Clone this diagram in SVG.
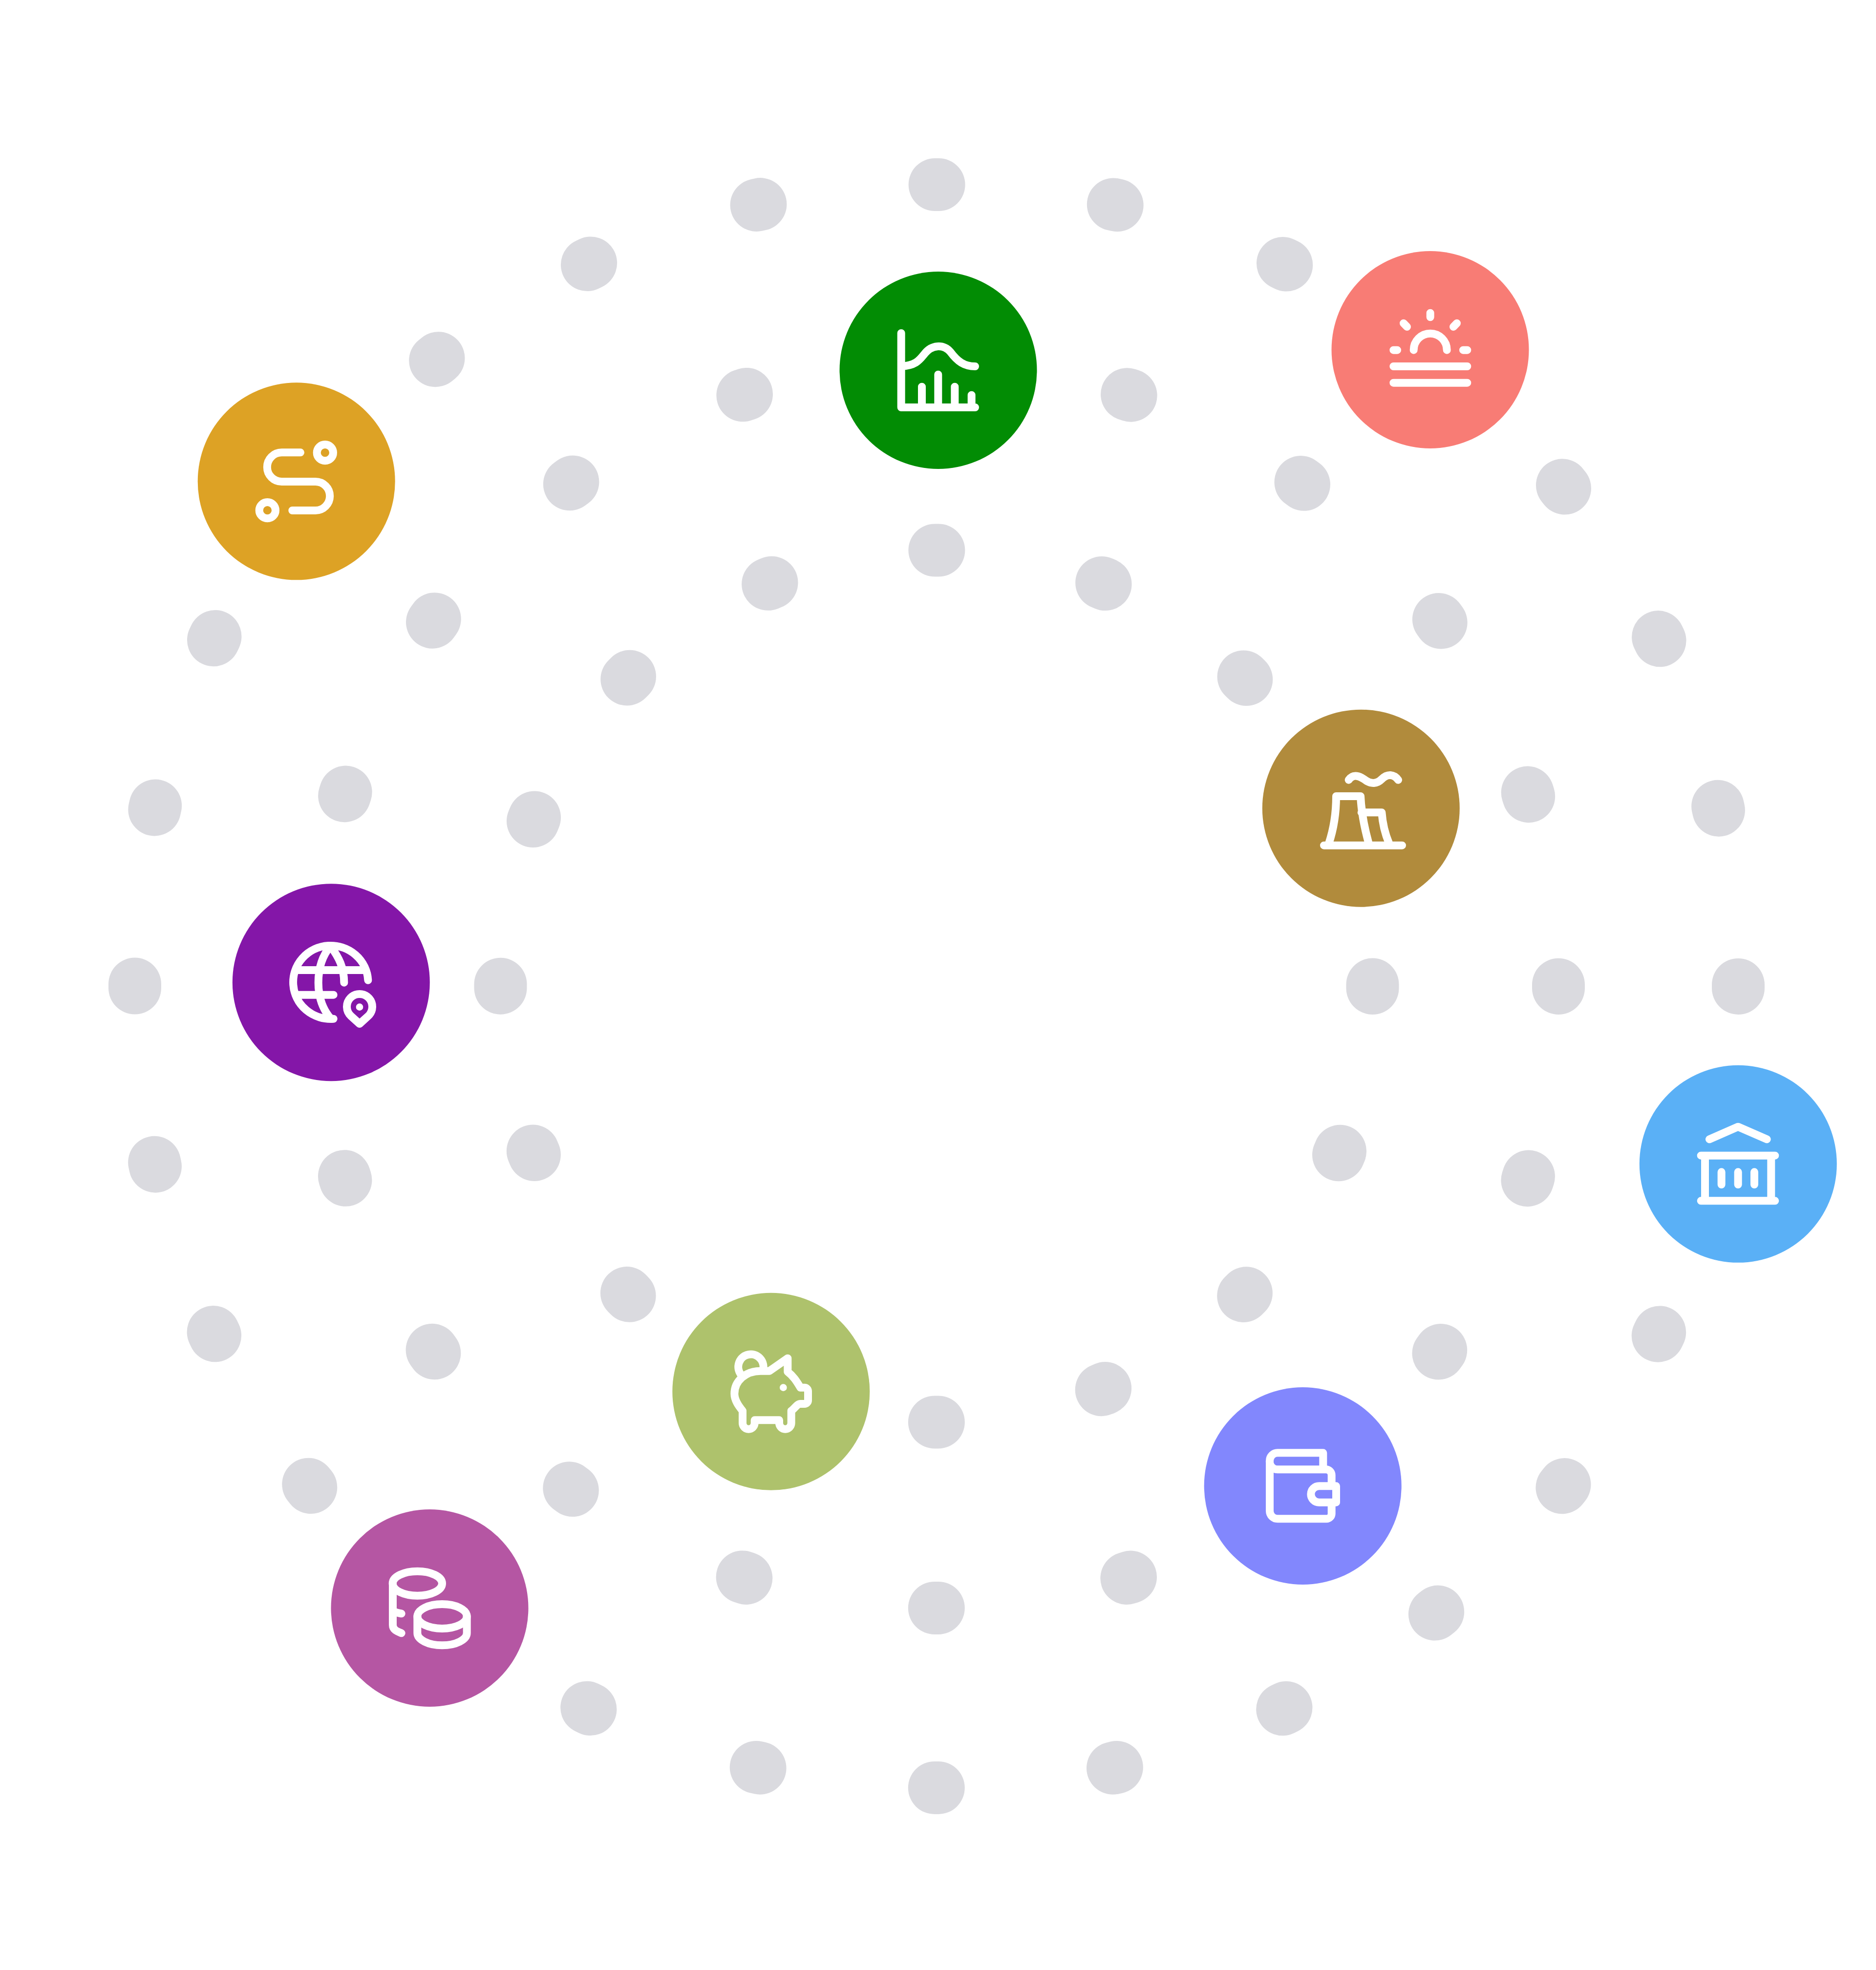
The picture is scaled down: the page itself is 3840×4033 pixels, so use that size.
<svg xmlns="http://www.w3.org/2000/svg" width="3840" height="4033" viewBox="0 0 3840 4033">
<style>
.ring{fill:none;stroke:#DADADF;stroke-width:108;stroke-linecap:round;stroke-dashoffset:4}
.disc{stroke:none}
.i{fill:none;stroke:#fff;stroke-width:48;stroke-linecap:round;stroke-linejoin:round}
.d{fill:#fff;stroke:none}
</style>
<rect width="3840" height="4033" fill="#fff"/>
<g id="connectors">
<circle class="ring" cx="1917" cy="2019" r="892.5" stroke-dasharray="8 342.48"/>
<circle class="ring" cx="1917" cy="2019" r="1273" stroke-dasharray="8 391.92"/>
<circle class="ring" cx="1917" cy="2019" r="1641" stroke-dasharray="8 360.24"/>
</g>
<g id="node-chart">
<circle class="disc" cx="1920.5" cy="758" r="202" fill="#028C04"/>
<g transform="translate(1700 530) scale(.33333)">
<path class="i" d="M434 456V912H888M434 660C530 655 550 615 580 580C620 530 690 520 735 570C780 630 820 660 888 660M561 785V912M661 710V912M763 785V912M866 836V912"/>
</g>
</g>
<g id="node-sun">
<circle class="disc" cx="2927.5" cy="716" r="202" fill="#F87C75"/>
<g transform="translate(2710 500) scale(.33333)">
<path class="i" d="M653 422V448M489 485L510 507M816 485L795 507M427 650H450M855 650H880M551 650a102 102 0 0 1 204 0M427 750H880M427 851H880"/>
</g>
</g>
<g id="node-plant">
<circle class="disc" cx="2785.8" cy="1654.7" r="202" fill="#B18B3C"/>
<g transform="translate(2570 1440) scale(.33333)">
<path class="i" d="M572 470C600 430 640 445 680 475C710 495 745 495 775 465C810 430 850 435 876 470M420 872H900M450 860C480 770 495 680 495 570H645C650 680 670 770 695 860M650 670H775C780 740 795 800 820 860"/>
</g>
</g>
<g id="node-bank">
<circle class="disc" cx="3557.8" cy="2382.8" r="202" fill="#5AB0F6"/>
<g transform="translate(3340 2160) scale(.33333)">
<path class="i" d="M477 517L653 440L830 517M425 617H880M425 895H880M450 617V895M856 617V895M551 718V795M653 718V795M753 718V795"/>
</g>
</g>
<g id="node-wallet">
<circle class="disc" cx="2666.7" cy="3042" r="202" fill="#8287FD"/>
<g transform="translate(2450 2820) scale(.33333)">
<path class="i" d="M775 565V463H495a48 48 0 0 0 -48 48V820a48 48 0 0 0 48 48H795a32 32 0 0 0 32 -32V790M827 650V600a35 35 0 0 0 -35 -35H495a48 48 0 0 1 -48 -54M855 667H750a50 50 0 0 0 0 100H855Z"/>
</g>
</g>
<g id="node-piggy">
<circle class="disc" cx="1578.3" cy="2848.8" r="202" fill="#AEC26C"/>
<g transform="translate(1360 2630) scale(.33333)">
<path class="i" d="M470 552A77 77 0 1 1 605 525M757 452L645 530H590C500 530 430 590 430 670C430 710 455 745 480 775V850a37 37 0 0 0 74 0V832H705V850a37 37 0 0 0 74 0V775C800 760 815 732 835 732H860a22 22 0 0 0 22 -22V654a22 22 0 0 0 -22 -22H835C810 590 790 560 757 535Z"/>
<circle class="d" cx="730" cy="632" r="22"/>
</g>
</g>
<g id="node-coins">
<circle class="disc" cx="879.5" cy="3292" r="202" fill="#B556A3"/>
<g transform="translate(660 3070) scale(.33333)">
<ellipse class="i" cx="583" cy="515" rx="152" ry="75"/>
<ellipse class="i" cx="735" cy="717" rx="152" ry="75"/>
<path class="i" d="M432 515V770C432 800 460 810 485 820M432 680C440 690 460 695 485 700M583 717V820C583 860 650 895 735 895C820 895 887 860 887 820V717"/>
</g>
</g>
<g id="node-globe">
<circle class="disc" cx="677.8" cy="2011.2" r="202" fill="#8416A8"/>
<g transform="translate(460 1790) scale(.33333)">
<path class="i" d="M880 650A230 225 0 1 0 668 887M650 440C590 510 575 590 575 665C575 740 595 820 650 885M650 440C700 510 733 570 733 665M440 588H860M450 740H668M828 918L775 870A78 78 0 1 1 881 870Z"/>
<circle class="d" cx="828" cy="815" r="22"/>
</g>
</g>
<g id="node-route">
<circle class="disc" cx="606.7" cy="985.3" r="202" fill="#DDA225"/>
<g transform="translate(390 770) scale(.33333)">
<circle class="i" cx="826" cy="470" r="50"/>
<circle class="i" cx="472" cy="824" r="50"/>
<path class="i" d="M675 469H560a89.5 89.5 0 0 0 0 179H767a88.5 88.5 0 0 1 0 177H625"/>
</g>
</g>
</svg>
